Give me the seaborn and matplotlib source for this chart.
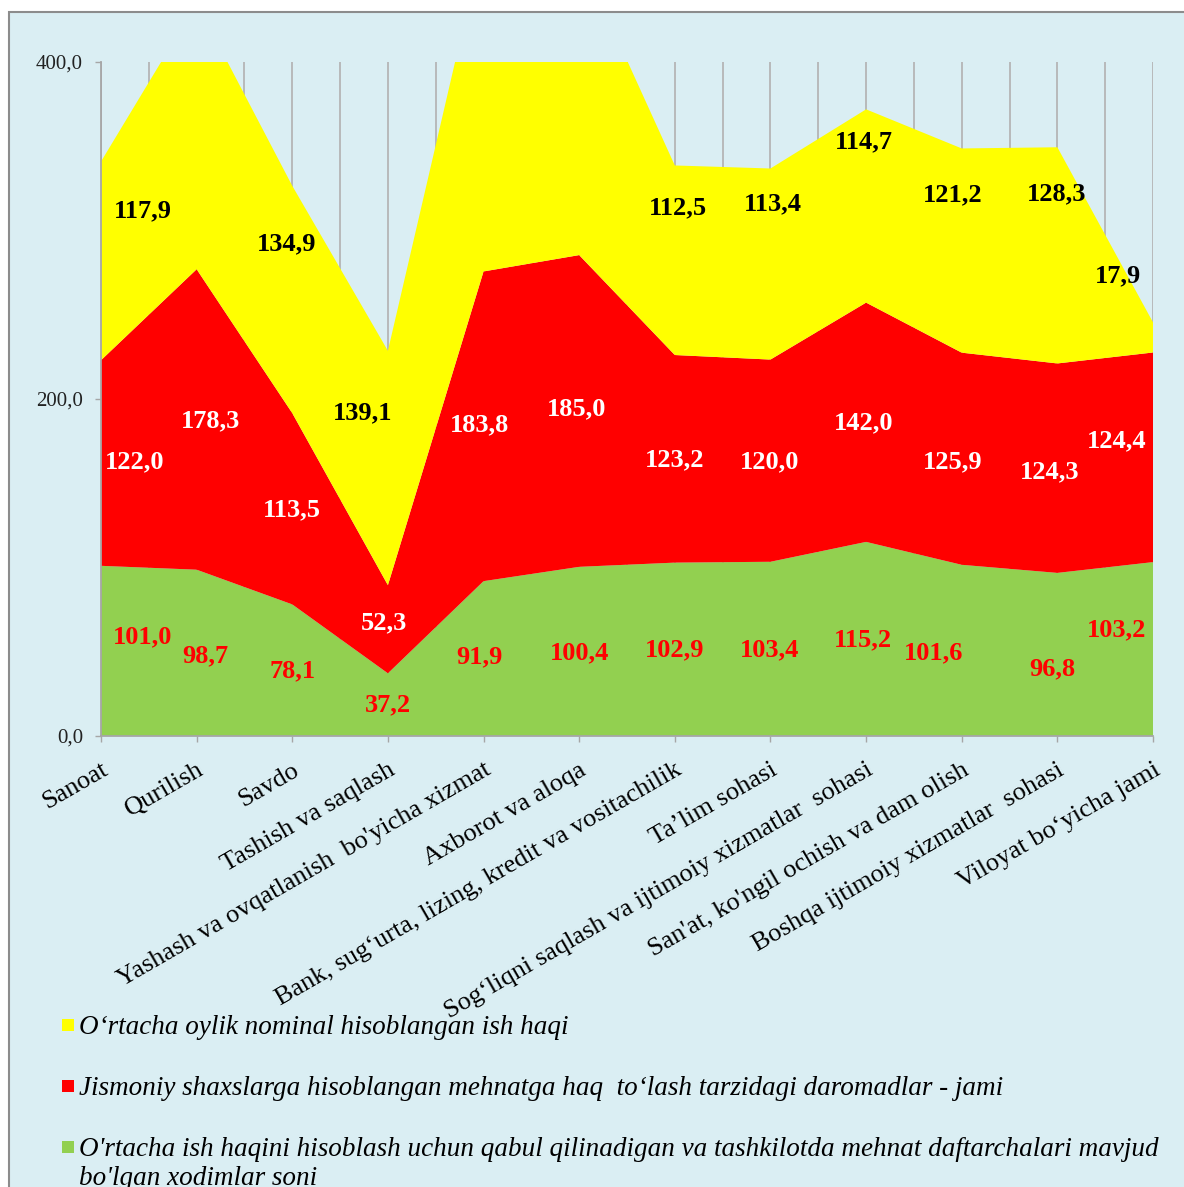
import numpy as np
import pandas as pd
import matplotlib
matplotlib.use("Agg")
import matplotlib.pyplot as plt
from matplotlib.patches import Rectangle
from matplotlib.ticker import MultipleLocator, FuncFormatter
import seaborn as sns

# Tarmoqlar
categories = [
    "Sanoat",
    "Qurilish",
    "Savdo",
    "Tashish va saqlash",
    "Yashash va ovqatlanish  bo'yicha xizmat",
    "Axborot va aloqa",
    "Bank, sug\u2018urta, lizing, kredit va vositachilik",
    "Ta\u2019lim sohasi",
    "Sog\u2018liqni saqlash va ijtimoiy xizmatlar  sohasi",
    "San'at, ko'ngil ochish va dam olish",
    "Boshqa ijtimoiy xizmatlar  sohasi",
    "Viloyat bo\u2018yicha jami",
]

# Qatorlar (pastdan yuqoriga)
xodimlar = [101.0, 98.7, 78.1, 37.2, 91.9, 100.4, 102.9, 103.4, 115.2, 101.6, 96.8, 103.2]
daromadlar = [122.0, 178.3, 113.5, 52.3, 183.8, 185.0, 123.2, 120.0, 142.0, 125.9, 124.3, 124.4]
ish_haqi = [117.9, 158.0, 134.9, 139.1, 197.0, 178.0, 112.5, 113.4, 114.7, 121.2, 128.3, 17.9]

legend_labels = [
    "O\u2018rtacha oylik nominal hisoblangan ish haqi",
    "Jismoniy shaxslarga hisoblangan mehnatga haq  to\u2018lash tarzidagi daromadlar - jami",
    "O'rtacha ish haqini hisoblash uchun qabul qilinadigan va tashkilotda mehnat daftarchalari mavjud\nbo'lgan xodimlar soni",
]

df = pd.DataFrame({"tarmoq": categories, "xodimlar": xodimlar,
                   "daromadlar": daromadlar, "ish_haqi": ish_haqi})

green, red, yellow = "#92D050", "#FF0000", "#FFFF00"
bg = "#DAEEF3"

sns.set_theme(style="white")
plt.rcParams["font.family"] = ["Liberation Serif", "DejaVu Serif"]

W, H = 1184, 1187
fig = plt.figure(figsize=(W / 100, H / 100), dpi=100, facecolor="white")
fig.patches.append(Rectangle((9 / W, -0.05), 1.1, 1 - 12 / H + 0.05,
                             transform=fig.transFigure, facecolor=bg,
                             edgecolor="#8C8C8C", lw=1.5, zorder=-10))

ax = fig.add_axes([101 / W, 1 - 736 / H, (1153 - 101) / W, (736 - 62) / H])
ax.set_facecolor("none")

x = np.arange(len(df))
ax.stackplot(x, df["xodimlar"], df["daromadlar"], df["ish_haqi"],
             colors=[green, red, yellow], linewidth=0, edgecolor="none", zorder=2)

ax.set_xlim(0, len(df) - 1)
ax.set_ylim(0, 400)

# vertikal chiziqlar
ax.xaxis.set_minor_locator(MultipleLocator(0.5))
ax.set_axisbelow(True)
ax.grid(axis="x", which="both", color="#B5B5B5", lw=1.3)
ax.grid(axis="y", visible=False)

for s in ["top", "right"]:
    ax.spines[s].set_visible(False)
for s in ["left", "bottom"]:
    ax.spines[s].set_color("#A6A6A6")
    ax.spines[s].set_linewidth(1.3)

ax.set_xticks(x)
ax.set_xticklabels(df["tarmoq"], rotation=30, ha="right", va="top",
                   rotation_mode="anchor", fontsize=19, color="black")
ax.tick_params(axis="x", which="major", length=4.5, width=1, color="#A6A6A6",
               bottom=True, pad=12)
ax.tick_params(axis="x", which="minor", length=0)

ax.set_yticks([0, 200, 400])
ax.yaxis.set_major_formatter(FuncFormatter(lambda v, p: f"{v:.1f}".replace(".", ",")))
ax.tick_params(axis="y", length=4, width=1, color="#A6A6A6", left=True,
               labelsize=15, labelcolor="#222222", pad=9)

# yorliqlar siljishi (px): x, y
nudge = {
    "xodimlar": ([42, 9, 0, 0, -4, 0, 0, -1, -3, -28, -5, -36],
                 [14, -3, -1, 0, 2, -1, -1, -1, -1, -2, -14, 19]),
    "daromadlar": ([34, 14, 0, -4, -4, -3, 0, -1, -2, -9, -8, -36],
                   [1, -1, -1, 6, 1, 2, -1, -1, -1, -3, -4, 16]),
    "ish_haqi": ([42, 0, -6, -25, 0, 0, 3, 2, -2, -9, -1, -35],
                 [50, 0, 56, 55, 0, 0, 52, 60, 64, 56, 62, 62]),
}
text_colors = {"xodimlar": red, "daromadlar": "white", "ish_haqi": "black"}

bottom = np.zeros(len(df))
for col in ["xodimlar", "daromadlar", "ish_haqi"]:
    vals = df[col].to_numpy()
    mid = bottom + vals / 2
    dxs, dys = nudge[col]
    for i, v in enumerate(vals):
        if bottom[i] + vals[i] > 400:
            bottom[i] += v
            continue
        ax.annotate(f"{v:.1f}".replace(".", ","), (x[i], mid[i]),
                    xytext=(dxs[i] * 0.72, dys[i] * 0.72), textcoords="offset points",
                    ha="center", va="center", fontsize=19, fontweight="bold",
                    color=text_colors[col], zorder=5, annotation_clip=False)
        bottom[i] += v

# legend
for i, (lab, c) in enumerate(zip(legend_labels, [yellow, red, green])):
    yc = 1025 + 61 * i
    fig.patches.append(Rectangle((62 / W, 1 - (yc + 6) / H), 12 / W, 12 / H,
                                 transform=fig.transFigure, facecolor=c,
                                 edgecolor="none", zorder=3))
    for j, line in enumerate(lab.split("\n")):
        fig.text(79 / W, 1 - (yc + 9 + 29 * j) / H, line, ha="left", va="baseline",
                 fontsize=19.5, style="italic", color="black")

fig.savefig("out.png", dpi=100, facecolor="white")
